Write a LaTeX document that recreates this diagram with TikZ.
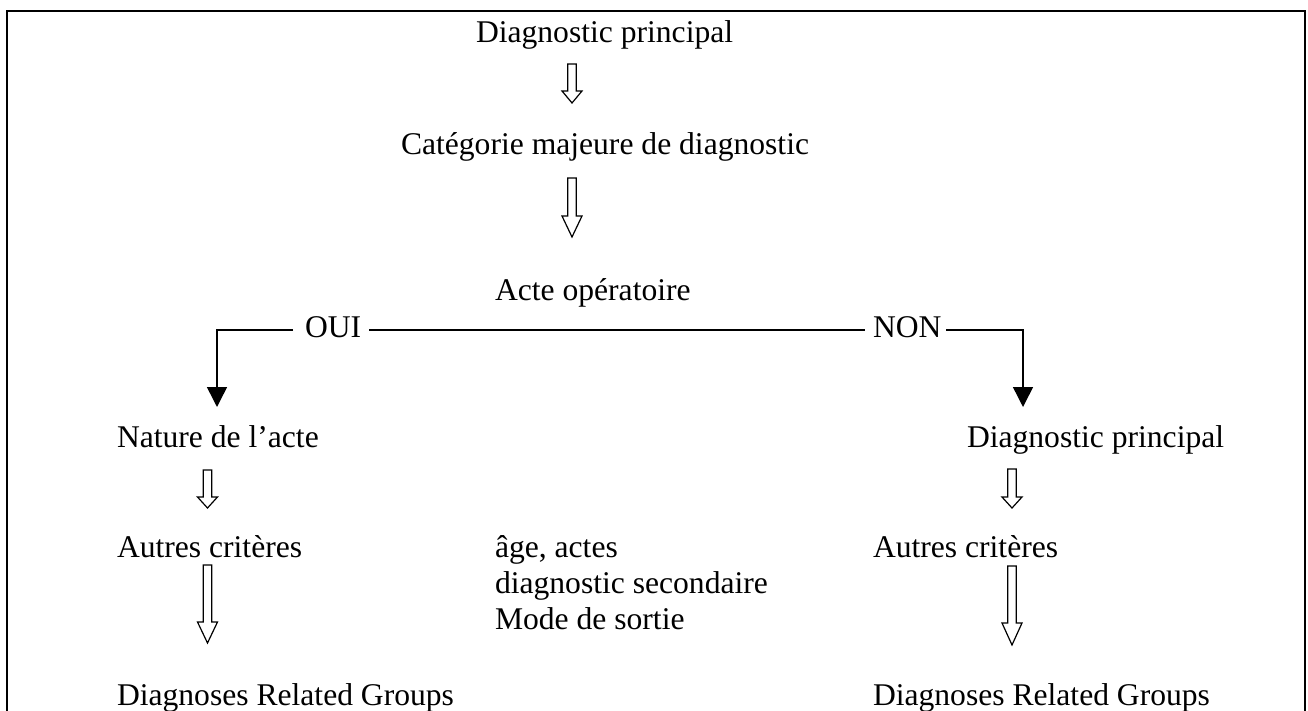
\documentclass[tikz,border=0pt]{standalone}
\usepackage{fontspec}
\setmainfont{Liberation Serif}
\usetikzlibrary{calc,arrows.meta}
\newcommand\harrow[3]{%
  \draw[hollowarr] ($(#1)+(-4.3,0)$) -- ($(#2)+(-4.3,-#3)$) -- ($(#2)+(-10,-#3)$) -- (#2)
    -- ($(#2)+(10,-#3)$) -- ($(#2)+(4.3,-#3)$) -- ($(#1)+(4.3,0)$) -- cycle;}
\begin{document}
\begin{tikzpicture}[x=1pt,y=-1pt,
  lbl/.style={anchor=base west,inner sep=0pt,outer sep=0pt,font=\fontsize{31.6}{36}\selectfont},
  hollowarr/.style={line width=1.2pt,line join=miter,fill=white},
  conn/.style={line width=1.5pt},
  frame/.style={line width=2.5pt}]
\useasboundingbox (0,0) rectangle (1308,711);
\draw[frame] (7,720) -- (7,11) -- (1305,11) -- (1305,720);
% text nodes
\node[lbl] (dp)   at (476,43)  {Diagnostic principal};
\node[lbl] (cmd)  at (401,155) {Catégorie majeure de diagnostic};
\node[lbl] (acte) at (495,300) {Acte opératoire};
\node[lbl] (oui)  at (305,337) {OUI};
\node[lbl] (non)  at (873,337) {NON};
\node[lbl] (nat)  at (117,447) {Nature de l’acte};
\node[lbl] (dp2)  at (967,447) {Diagnostic principal};
\node[lbl] (acL)  at (117,557) {Autres critères};
\node[lbl] (acR)  at (873,557) {Autres critères};
\node[lbl] (m1)   at (495,557) {âge, actes};
\node[lbl] (m2)   at (495,593) {diagnostic secondaire};
\node[lbl] (m3)   at (495,629) {Mode de sortie};
\node[lbl] (drgL) at (117,705) {Diagnoses Related Groups};
\node[lbl] (drgR) at (873,705) {Diagnoses Related Groups};
% branch connectors
\coordinate (cL) at (217,330);
\coordinate (tL) at (217,407);
\coordinate (cR) at (1023,330);
\coordinate (tR) at (1023,407);
\draw[conn,-{Triangle[width=20pt,length=20pt]}] ($(oui.west |- cL)+(-12,0)$) -- (cL) -- (tL);
\draw[conn] ($(oui.east |- cL)+(8,0)$) -- ($(non.west |- cL)+(-8,0)$);
\draw[conn,-{Triangle[width=20pt,length=20pt]}] ($(non.east |- cR)+(5,0)$) -- (cR) -- (tR);
% hollow arrows
\coordinate (h1a) at (572,64);   \coordinate (h1b) at (572,103);
\coordinate (h2a) at (572,178);  \coordinate (h2b) at (572,237);
\coordinate (h3a) at (207.5,470); \coordinate (h3b) at (207.5,508);
\coordinate (h4a) at (207.5,565); \coordinate (h4b) at (207.5,643);
\coordinate (h5a) at (1012,469); \coordinate (h5b) at (1012,508);
\coordinate (h6a) at (1012,566); \coordinate (h6b) at (1012,645);
\harrow{h1a}{h1b}{12}
\harrow{h2a}{h2b}{21}
\harrow{h3a}{h3b}{11}
\harrow{h4a}{h4b}{21}
\harrow{h5a}{h5b}{11}
\harrow{h6a}{h6b}{22}
\end{tikzpicture}
\end{document}
